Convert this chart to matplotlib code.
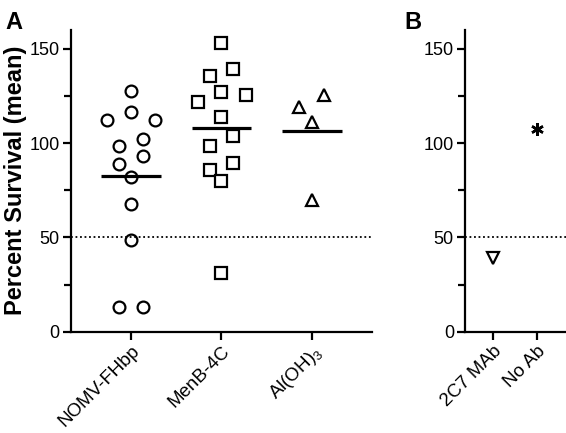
import matplotlib
matplotlib.use("Agg")
from matplotlib import pyplot as plt

plt.rcParams['font.family'] = ['Liberation Sans', 'DejaVu Sans']

# Panel A data (percent survival, mean) and column jitter
grupos = ['NOMV-FHbp', 'MenB-4C', r'Al(OH)$_\mathregular{3}$']
nomv = [127.5, 116.4, 112.0, 112.3, 102.0, 98.5, 93.0, 89.0, 81.8, 67.8, 48.5, 13.3, 13.3]
nomv_dx = [0, 0, -0.26, 0.27, 0.13, -0.13, 0.13, -0.13, 0, 0, 0, -0.13, 0.13]
menb = [153.2, 139.0, 135.5, 127.2, 125.4, 121.9, 113.7, 103.6, 98.7, 89.5, 85.9, 79.7, 31.3]
menb_dx = [0, 0.13, -0.13, 0, 0.27, -0.26, 0, 0.13, -0.13, 0.13, -0.13, 0, 0]
aloh = [125.4, 119.2, 111.3, 70.0]
aloh_dx = [0.13, -0.14, 0, 0]

# Panel B data
controles = ['2C7 MAb', 'No Ab']
mab = [39.0]
noab = [107.2]

umbral = 50

fig = plt.figure(figsize=(5.66, 4.33), dpi=100)
axA = fig.add_axes([0.1254, 0.234, 0.657 - 0.1254, 0.697])
axB = fig.add_axes([0.8216, 0.234, 1.0 - 0.8216, 0.697])

estilo = dict(linestyle='none', markerfacecolor='white', markeredgecolor='black',
              markeredgewidth=1.6, clip_on=False)

series = [(nomv, nomv_dx, 'o', 8.5), (menb, menb_dx, 's', 8), (aloh, aloh_dx, '^', 8)]
for i, (vals, dx, m, ms) in enumerate(series):
    axA.plot([i + d for d in dx], vals, marker=m, markersize=ms, **estilo)
    media = sum(vals) / len(vals)
    axA.plot([i - 0.33, i + 0.33], [media, media], color='black', lw=2.3, solid_capstyle='butt')

axA.axhline(umbral, color='black', lw=1.3, linestyle=(0, (1, 1.5)))
axA.set_xlim(-0.66, 2.66)
axA.set_xticks(range(len(grupos)))
axA.set_xticklabels(grupos)

axB.plot([0], mab, marker='v', markersize=8, **estilo)
axB.plot([1], noab, marker=(6, 2, 0), markersize=9, color='black', markeredgewidth=1.8,
         linestyle='none')
axB.axhline(umbral, color='black', lw=1.3, linestyle=(0, (1, 1.5)))
axB.set_xlim(-0.65, 1.68)
axB.set_xticks(range(len(controles)))
axB.set_xticklabels(controles)

for ax in (axA, axB):
    ax.set_ylim(0, 160)
    ax.set_yticks([0, 50, 100, 150])
    ax.set_yticks([25, 75, 125], minor=True)
    for s in ['top', 'right']:
        ax.spines[s].set_visible(False)
    for s in ['left', 'bottom']:
        ax.spines[s].set_linewidth(1.6)
    ax.tick_params(axis='y', which='major', length=6, width=1.6, labelsize=13, pad=2)
    ax.tick_params(axis='x', which='major', length=6, width=1.6, labelsize=13.5, pad=2)
    ax.tick_params(axis='y', which='minor', length=5, width=1.6)
    for lbl in ax.get_xticklabels():
        lbl.set_rotation(45)
        lbl.set_ha('right')
        lbl.set_rotation_mode('anchor')

axA.set_ylabel('Percent Survival (mean)', fontsize=17, fontweight='bold', labelpad=2)

fig.text(0.025, 0.975, 'A', fontsize=17, fontweight='bold', va='top', ha='center')
fig.text(0.73, 0.975, 'B', fontsize=17, fontweight='bold', va='top', ha='center')

fig.savefig('out.png', dpi=100)
